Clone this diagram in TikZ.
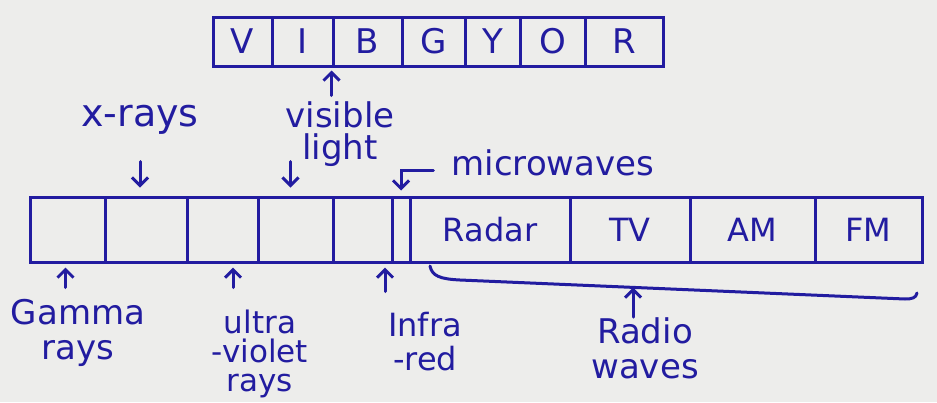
\documentclass[tikz,border=0pt]{standalone}
\usepackage{fontspec}
\setmainfont{DejaVu Sans}
\usetikzlibrary{arrows.meta,calc}
\definecolor{ink}{RGB}{34,28,160}
\definecolor{paper}{RGB}{237,237,235}
\begin{document}
\begin{tikzpicture}[x=1pt,y=-1pt,
  cell/.style={draw=ink, line width=3pt, minimum height=49pt, inner sep=0pt, text=ink, font=\fontsize{34}{36}\selectfont},
  bcell/.style={draw=ink, line width=3pt, minimum height=65pt, inner sep=0pt, text=ink, font=\fontsize{32}{34}\selectfont},
  lbl/.style={text=ink, font=\fontsize{34}{34}\selectfont, align=center, inner sep=0pt},
  arr/.style={draw=ink, line width=3pt, line cap=round, -{Straight Barb[length=8pt,width=16pt]}},
  brace/.style={draw=ink, line width=3pt, line cap=round}
]
\fill[paper] (0,0) rectangle (937,402);
\useasboundingbox (0,0) rectangle (937,402);

% VIBGYOR box
\node[cell, minimum width=59pt] (V) at (242.5,41.5) {V};
\node[cell, minimum width=61pt] (I) at (302.5,41.5) {I};
\node[cell, minimum width=69pt] (B) at (367.5,41.5) {B};
\node[cell, minimum width=63pt] (G) at (433.5,41.5) {G};
\node[cell, minimum width=55pt] (Y) at (492.5,41.5) {Y};
\node[cell, minimum width=65pt] (O) at (552.5,41.5) {O};
\node[cell, minimum width=78pt] (R) at (624,41.5) {R};

% spectrum bar
\node[bcell, minimum width=75pt]  (gam) at (67.5,229.5) {};
\node[bcell, minimum width=82pt]  (xr)  at (146,229.5) {};
\node[bcell, minimum width=71pt]  (uv)  at (222.5,229.5) {};
\node[bcell, minimum width=75pt]  (vis) at (295.5,229.5) {};
\node[bcell, minimum width=59pt]  (ir)  at (362.5,229.5) {};
\node[bcell, minimum width=18pt]  (mw)  at (401,229.5) {};
\node[bcell, minimum width=160pt] (rad) at (490,229.5) {Radar};
\node[bcell, minimum width=120pt] (tv)  at (630,229.5) {TV};
\node[bcell, minimum width=125pt] (am)  at (752.5,229.5) {AM};
\node[bcell, minimum width=107pt] (fm)  at (868.5,229.5) {FM};

% labels
\node[lbl, font=\fontsize{38}{38}\selectfont] (xl)  at (140,120) {x-rays};
\node[lbl, font=\fontsize{34}{32}\selectfont] (vl) at (340,134) {visible\\light};
\node[lbl] (mwl) at (553,163) {microwaves};
\node[lbl, font=\fontsize{34}{35}\selectfont] (gl) at (78,333) {Gamma\\rays};
\node[lbl, font=\fontsize{31}{29}\selectfont] (ul) at (260,354) {ultra\\-violet\\rays};
\node[lbl, font=\fontsize{32}{34}\selectfont] (il) at (425,342) {Infra\\-red};
\node[lbl, font=\fontsize{34}{35}\selectfont] (rl) at (645,348) {Radio\\waves};

% arrows above
\draw[arr] ($(B.south west)+(0,28)$) -- ($(B.south west)+(0,3)$);
\draw[arr] ($(xr.north)+(-6,-34)$) -- ($(xr.north)+(-6,-8)$);
\draw[arr] ($(vis.north)+(-5,-34)$) -- ($(vis.north)+(-5,-8)$);
\draw[arr] ([shift={(-18,7)}]mwl.west) -| ($(mw.north)+(0,-5)$);

% arrows below
\draw[arr] ($(gam.south)+(-2,24)$) -- ($(gam.south)+(-2,4)$);
\draw[arr] ($(uv.south)+(10.5,24)$) -- ($(uv.south)+(10.5,4)$);
\draw[arr] ($(ir.south)+(22.5,28)$) -- ($(ir.south)+(22.5,4)$);

% radio brace
\coordinate (bm) at (633,287.5);
\draw[brace] (430,266) .. controls (432,276) and (440,279) .. (460,280) -- (905,299) .. controls (912,299) and (916,298) .. (917,293);
\draw[arr] (bm |- rl.north) -- (bm);
\end{tikzpicture}
\end{document}
